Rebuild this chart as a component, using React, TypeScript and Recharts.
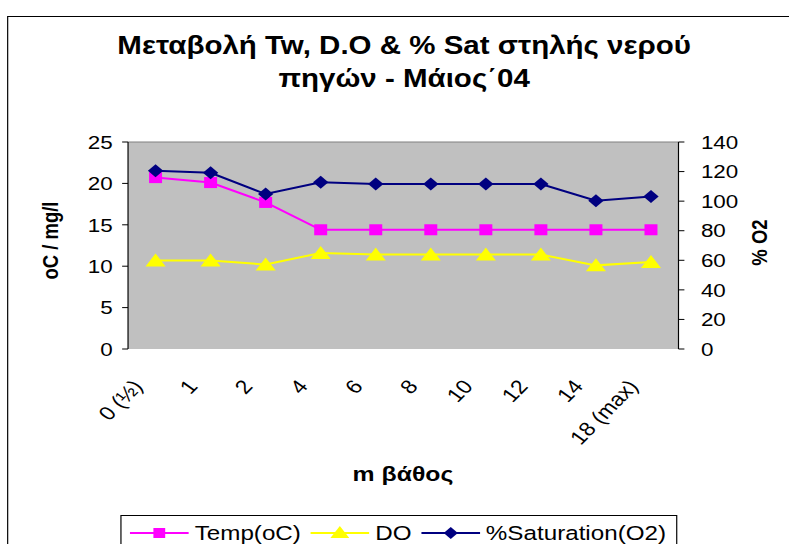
import React from 'react';
import { LineChart, Line, XAxis, YAxis, CartesianGrid, ReferenceLine } from 'recharts';

// depth of each sample point (m)
const DEPTHS = ['0 (½)', '1', '2', '4', '6', '8', '10', '12', '14', '18 (max)'];
// water temperature, oC
const TEMP = [20.7, 20.1, 17.7, 14.4, 14.4, 14.4, 14.4, 14.4, 14.4, 14.4];
// dissolved oxygen, mg/l
const DO = [10.7, 10.7, 10.2, 11.6, 11.4, 11.4, 11.4, 11.4, 10.1, 10.5];
// oxygen saturation, %
const SATURATION = [120.5, 119.2, 104.8, 112.7, 111.6, 111.6, 111.6, 111.6, 100.3, 103.2];

const LEFT_TICKS = [0, 5, 10, 15, 20, 25];
const RIGHT_TICKS = [0, 20, 40, 60, 80, 100, 120, 140];
// tick marks sit between the depth categories, labels in the middle of each slot
const BOUNDARY_TICKS = [0, 1, 2, 3, 4, 5, 6, 7, 8, 9, 10];
const LABEL_TICKS = DEPTHS.map((_, i) => i + 0.5);

const FONT = 'Arial, "Liberation Sans", sans-serif';
const WIDTH = 669;
const HEIGHT = 544;
const STRETCH = 1.18;

const data = DEPTHS.map((depth, i) => ({
  depth,
  pos: i + 0.5,
  temp: TEMP[i],
  dissolved: DO[i],
  sat: SATURATION[i],
}));

const squareDot = (p: any) => (
  <rect key={`sq-${p.index}`} x={p.cx - 5.5} y={p.cy - 5.5} width={11} height={11} fill="#FF00FF" />
);

const triangleDot = (p: any) => (
  <polygon
    key={`tri-${p.index}`}
    points={`${p.cx},${p.cy - 7} ${p.cx + 8.5},${p.cy + 6} ${p.cx - 8.5},${p.cy + 6}`}
    fill="#FFFF00"
  />
);

const diamondDot = (p: any) => (
  <polygon
    key={`dia-${p.index}`}
    points={`${p.cx},${p.cy - 6.5} ${p.cx + 6.5},${p.cy} ${p.cx},${p.cy + 6.5} ${p.cx - 6.5},${p.cy}`}
    fill="#000080"
  />
);

const depthTick = ({ x, y, payload }: any) => {
  const tx = x - 10;
  const ty = y + 30;
  return (
    <text
      x={tx}
      y={ty}
      transform={`rotate(-50, ${tx}, ${ty})`}
      textAnchor="end"
      fontSize={19.5}
      fontFamily={FONT}
      fill="#000"
    >
      {DEPTHS[Math.floor(payload.value)]}
    </text>
  );
};

const leftTitle = ({ viewBox }: any) => {
  const x = viewBox.x - 7.5;
  const y = viewBox.y + viewBox.height / 2 - 5;
  return (
    <text x={x} y={y} transform={`rotate(-90, ${x}, ${y})`} textAnchor="middle" dominantBaseline="central"
      fontSize={18.5} fontWeight="bold" fontFamily={FONT} fill="#000">
      oC / mg/l
    </text>
  );
};

const rightTitle = ({ viewBox }: any) => {
  const x = viewBox.x + viewBox.width + 17;
  const y = viewBox.y + viewBox.height / 2 - 3;
  return (
    <text x={x} y={y} transform={`rotate(-90, ${x}, ${y})`} textAnchor="middle" dominantBaseline="central"
      fontSize={18.5} fontWeight="bold" fontFamily={FONT} fill="#000">
      % O2
    </text>
  );
};

const LEGEND = [
  { name: 'Temp(oC)', color: '#FF00FF', marker: 'square' },
  { name: 'DO', color: '#FFFF00', marker: 'triangle' },
  { name: '%Saturation(O2)', color: '#000080', marker: 'diamond' },
];

function LegendIcon({ color, marker }: { color: string; marker: string }) {
  return (
    <svg width={50} height={16} style={{ display: 'block' }}>
      <line x1={0} y1={8} x2={50} y2={8} stroke={color} strokeWidth={2} />
      {marker === 'square' && <rect x={20} y={3} width={10} height={10} fill={color} />}
      {marker === 'triangle' && <polygon points="25,1 33,13 17,13" fill={color} />}
      {marker === 'diamond' && <polygon points="25,2 31,8 25,14 19,8" fill={color} />}
    </svg>
  );
}

export default function App() {
  return (
    <div style={{ position: 'fixed', left: 0, top: 0, width: 789, height: 544, overflow: 'hidden', background: '#fff' }}>
      <div
        style={{
          position: 'relative',
          width: WIDTH,
          height: HEIGHT,
          transform: `scaleX(${STRETCH})`,
          transformOrigin: '0 0',
          fontFamily: FONT,
        }}
      >
        <div style={{ position: 'absolute', left: 6, top: 16, width: 700, height: 600, border: '1px solid #000' }} />

        <div
          style={{
            position: 'absolute',
            left: 8,
            top: 29,
            width: WIDTH,
            textAlign: 'center',
            fontSize: 25,
            fontWeight: 'bold',
            lineHeight: '33px',
          }}
        >
          Μεταβολή Tw, D.O &amp; % Sat στηλής νερού
          <br />
          πηγών - Μάιος΄04
        </div>

        <div style={{ position: 'absolute', top: 0, left: 0 }}>
          <LineChart width={WIDTH} height={HEIGHT} data={data} margin={{ top: 142, right: 42, bottom: 135, left: 50 }}>
            <CartesianGrid xAxisId="depth" yAxisId="left" fill="#C0C0C0" horizontal={false} vertical={false} />
            {/* category boundary ticks, crossing the axis line */}
            <XAxis
              xAxisId="bounds"
              type="number"
              dataKey="pos"
              domain={[0, 10]}
              ticks={BOUNDARY_TICKS}
              allowDataOverflow
              height={0}
              tick={false}
              tickSize={6}
              axisLine={{ stroke: '#000' }}
              tickLine={{ stroke: '#000' }}
            />
            <XAxis
              xAxisId="boundsInner"
              type="number"
              dataKey="pos"
              domain={[0, 10]}
              ticks={BOUNDARY_TICKS}
              allowDataOverflow
              mirror
              height={0}
              tick={false}
              tickSize={6}
              axisLine={false}
              tickLine={{ stroke: '#000' }}
            />
            <XAxis
              xAxisId="depth"
              type="number"
              dataKey="pos"
              domain={[0, 10]}
              ticks={LABEL_TICKS}
              allowDataOverflow
              height={60}
              axisLine={false}
              tickLine={false}
              interval={0}
              tick={depthTick}
            />
            <YAxis
              yAxisId="left"
              domain={[0, 25]}
              ticks={LEFT_TICKS}
              width={58.5}
              tickSize={5}
              tickMargin={8}
              axisLine={{ stroke: '#000' }}
              tickLine={{ stroke: '#000' }}
              tick={{ fill: '#000', fontSize: 19, fontFamily: FONT }}
              label={{ content: leftTitle }}
            />
            <YAxis
              yAxisId="right"
              orientation="right"
              domain={[0, 140]}
              ticks={RIGHT_TICKS}
              width={52}
              tickSize={5}
              tickMargin={14}
              axisLine={{ stroke: '#000' }}
              tickLine={{ stroke: '#000' }}
              tick={{ fill: '#000', fontSize: 19, fontFamily: FONT, textAnchor: 'start' }}
              label={{ content: rightTitle }}
            />
            <YAxis
              yAxisId="rightInner"
              orientation="right"
              domain={[0, 140]}
              ticks={RIGHT_TICKS}
              mirror
              width={0}
              tick={false}
              tickSize={5}
              axisLine={false}
              tickLine={{ stroke: '#000' }}
            />
            <ReferenceLine xAxisId="depth" yAxisId="left" y={25} stroke="#808080" />
            <Line
              xAxisId="depth"
              yAxisId="left"
              dataKey="temp"
              name="Temp(oC)"
              stroke="#FF00FF"
              strokeWidth={2}
              dot={squareDot}
              activeDot={false}
              isAnimationActive={false}
            />
            <Line
              xAxisId="depth"
              yAxisId="left"
              dataKey="dissolved"
              name="DO"
              stroke="#FFFF00"
              strokeWidth={2}
              dot={triangleDot}
              activeDot={false}
              isAnimationActive={false}
            />
            <Line
              xAxisId="depth"
              yAxisId="right"
              dataKey="sat"
              name="%Saturation(O2)"
              stroke="#000080"
              strokeWidth={2}
              dot={diamondDot}
              activeDot={false}
              isAnimationActive={false}
            />
          </LineChart>
        </div>

        <div
          style={{
            position: 'absolute',
            left: 7,
            top: 462,
            width: WIDTH,
            textAlign: 'center',
            fontSize: 21,
            fontWeight: 'bold',
          }}
        >
          m βάθος
        </div>

        <div
          style={{
            position: 'absolute',
            left: 102,
            top: 515,
            width: 472,
            height: 40,
            border: '1px solid #000',
            background: '#fff',
            display: 'flex',
            alignItems: 'flex-start',
            paddingTop: 6,
            paddingLeft: 7,
            boxSizing: 'border-box',
            fontSize: 20.5,
          }}
        >
          {LEGEND.map((item) => (
            <div key={item.name} style={{ display: 'flex', alignItems: 'center', marginRight: 8 }}>
              <LegendIcon color={item.color} marker={item.marker} />
              <span style={{ marginLeft: 5, lineHeight: '22px' }}>{item.name}</span>
            </div>
          ))}
        </div>
      </div>
    </div>
  );
}
